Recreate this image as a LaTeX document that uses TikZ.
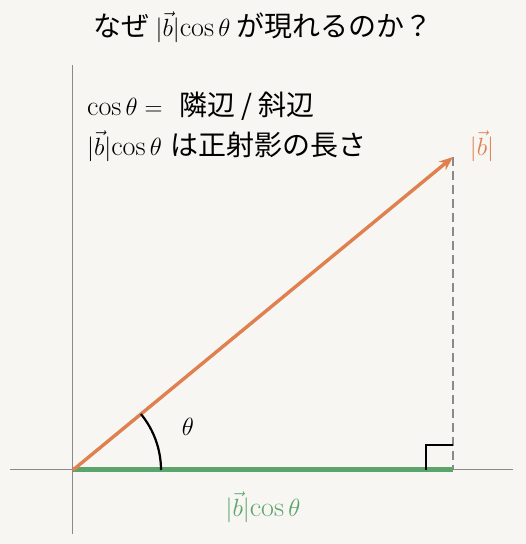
\documentclass[tikz,border=0pt]{standalone}
\usepackage{fontspec}
\newfontfamily\jp{Noto Sans CJK JP}
\usetikzlibrary{arrows.meta}
\definecolor{bgc}{HTML}{F7F6F2}
\definecolor{vorange}{HTML}{E0804F}
\definecolor{vgreen}{HTML}{5BA56C}
\definecolor{axisgray}{HTML}{8A8A8A}
\tikzset{
  axisline/.style={draw=axisgray, line width=1pt},
  vecline/.style={draw=vorange, line width=3.4pt, -{Stealth[length=14pt,width=11pt]}},
  projline/.style={draw=vgreen, line width=5pt},
  dropline/.style={draw=axisgray, line width=2.6pt, dash pattern=on 9pt off 5pt},
  marker/.style={draw=black, line width=2.2pt},
  txt/.style={font=\fontsize{28}{33}\selectfont, inner sep=0pt},
}
\newcommand{\bcos}{|\vec{b}|\mathrm{cos}\,\theta}
\begin{document}
\begin{tikzpicture}[x=1pt,y=1pt]
\fill[bgc] (-73,-74) rectangle (453,470);
\useasboundingbox (-73,-74) rectangle (453,470);
\coordinate (O) at (0,0);
\coordinate (T) at (380,313);
\coordinate (F) at (380,0);
\coordinate (xl) at (-63,0);
\coordinate (xr) at (440,0);
\coordinate (yb) at (0,-64);
\coordinate (yt) at (0,405);
\draw[axisline] (xl) -- (xr);
\draw[axisline] (yb) -- (yt);
\draw[dropline] (T) -- (F);
\draw[projline] (O) -- (F);
\draw[marker] (353,0) -- (353,25) -- (380,25);
\draw[vecline] (O) -- (T);
\draw[marker] (88,0) arc[start angle=0, end angle=39.5, radius=88];
\node[txt] (theta) at (115,43) {$\theta$};
\node[txt, text=vorange] (blab) at (409,324) {$|\vec{b}|$};
\node[txt, text=vgreen] (plab) at (190,-37) {$\bcos$};
\node[txt] (title) at (190,443) {\jp なぜ $\bcos$ が現れるのか？};
\node[txt, anchor=west] (l1) at (14,364) {$\mathrm{cos}\,\theta =$\ \ \jp 隣辺 / 斜辺};
\node[txt, anchor=west] (l2) at (14,324) {$\bcos$ \jp は正射影の長さ};
\end{tikzpicture}
\end{document}
